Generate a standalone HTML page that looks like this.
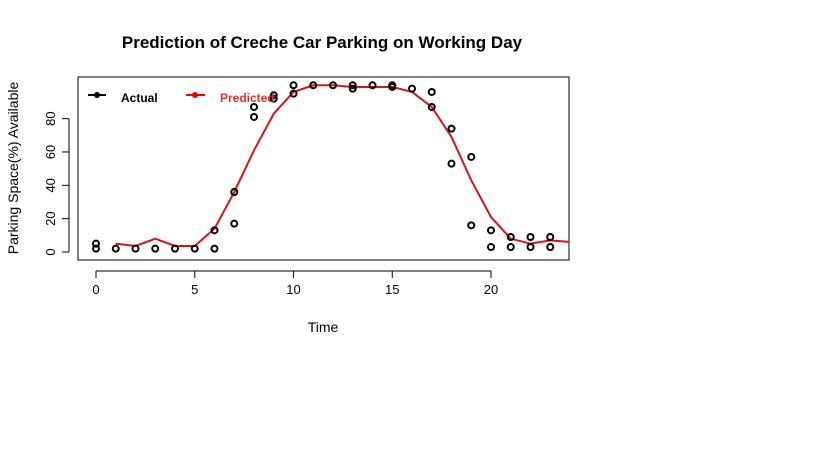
<!DOCTYPE html>
<html><head><meta charset="utf-8"><style>
body{margin:0;background:#fff;}
svg{display:block;font-family:"Liberation Sans",Arial,sans-serif;}
</style></head><body>
<svg id="chart" width="819" height="460">
<text x="322" y="48" text-anchor="middle" font-size="17" font-weight="bold">Prediction of Creche Car Parking on Working Day</text>
<text x="323" y="332" text-anchor="middle" font-size="14">Time</text>
<text transform="translate(18,168) rotate(-90)" text-anchor="middle" font-size="14">Parking Space(%) Available</text>
<rect x="78" y="77" width="491" height="183" fill="none" stroke="#000"/>
<g id="axes"></g><g id="marks"></g>
<g>
<line x1="88" y1="95" x2="106" y2="95" stroke="#000" stroke-width="2"/><circle cx="97" cy="95" r="3" fill="#000"/>
<text x="121" y="102" font-size="12" font-weight="bold">Actual</text>
<line x1="186" y1="95" x2="205" y2="95" stroke="#e00" stroke-width="2"/><circle cx="195" cy="95" r="3" fill="#e00"/>
<text x="220" y="102" font-size="12" font-weight="bold" fill="#e0302a">Predicted</text>
</g>
</svg>
<script>
const actualX=[0,0,1,2,3,4,5,6,6,7,7,8,8,9,9,10,10,11,12,13,13,14,15,15,16,17,17,18,18,19,19,20,20,21,21,22,22,23,23];
const actualY=[5,2,2,2,2,2,2,13,2,36,17,87,81,94,92,100,95,100,100,100,98,100,100,99,98,96,87,74,53,57,16,13,3,9,3,9,3,9,3];
const predX=[1,2,3,4,5,6,7,8,9,10,11,12,13,14,15,16,17,18,19,20,21,22,23,24];
const predY=[5,3.6,8,3.6,3.6,14,36,61,83,96,100,100,99,99,99,96,87,69,43,21,8,5,7,6];
const xTicks=[0,5,10,15,20];
const yTicks=[0,20,40,60,80];
const X=v=>96+v*19.75, Y=v=>252-v*1.667;
const NS="http://www.w3.org/2000/svg";
const ax=document.getElementById('axes'), mk=document.getElementById('marks');
function mkEl(t,a,p){const e=document.createElementNS(NS,t);for(const k in a)e.setAttribute(k,a[k]);p.appendChild(e);return e;}
mkEl('line',{x1:X(0),x2:X(20),y1:271,y2:271,stroke:'#000'},ax);
xTicks.forEach(v=>{mkEl('line',{x1:X(v),x2:X(v),y1:271,y2:278,stroke:'#000'},ax);
const t=mkEl('text',{x:X(v),y:294,'text-anchor':'middle','font-size':13},ax);t.textContent=v;

});
mkEl('line',{x1:69,x2:69,y1:Y(0),y2:Y(80),stroke:'#000'},ax);
yTicks.forEach(v=>{mkEl('line',{x1:62,x2:69,y1:Y(v),y2:Y(v),stroke:'#000'},ax);
const t=mkEl('text',{transform:`translate(55,${Y(v)}) rotate(-90)`,'text-anchor':'middle','font-size':13},ax);t.textContent=v;

});
const clip=mkEl('clipPath',{id:'pc'},mk);mkEl('rect',{x:78,y:77,width:491,height:183},clip);
const pl=mkEl('polyline',{points:predX.map((x,i)=>X(x)+','+Y(predY[i])).join(' '),fill:'none',stroke:'#d8141a','stroke-width':2,'clip-path':'url(#pc)'},mk);


actualX.forEach((x,i)=>{const c=mkEl('circle',{cx:X(x),cy:Y(actualY[i]),r:3,fill:'none',stroke:'#000','stroke-width':2},mk);

});
</script>
</body></html>
